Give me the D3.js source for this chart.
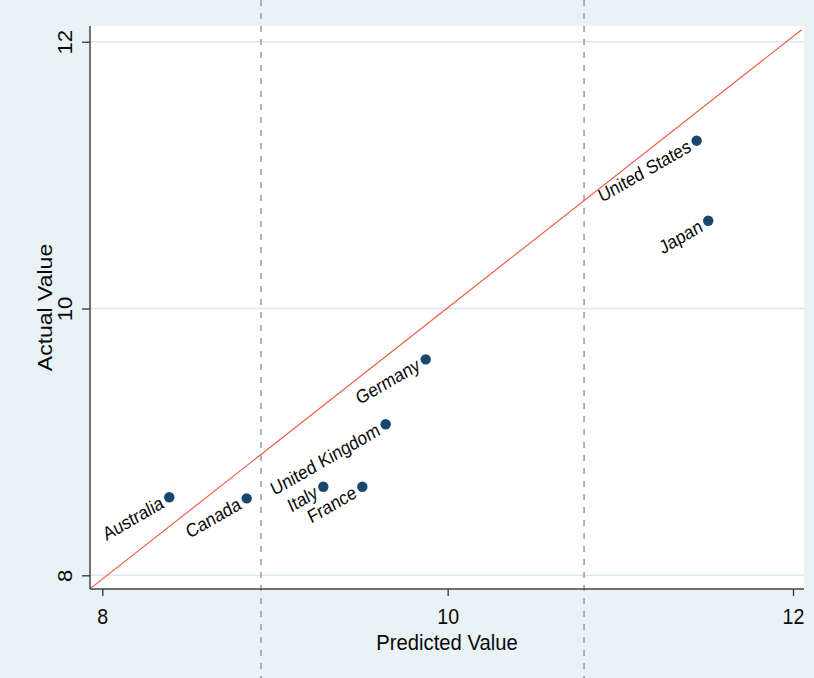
<!DOCTYPE html>
<html>
<head>
<meta charset="utf-8">
<script src="https://cdn.jsdelivr.net/npm/d3@7"></script>
<style>
  html, body { margin: 0; padding: 0; background: #e9f2f4; }
  svg { display: block; }
  text { font-family: "Liberation Sans", Arial, Helvetica, sans-serif; fill: #0a0a0a; }
</style>
</head>
<body>
<svg id="chart" width="814" height="678"></svg>
<script>
// Countries with predicted and actual values
const countries = ["Australia", "Canada", "Italy", "France", "United Kingdom", "Germany", "United States", "Japan"];
const predicted = [8.388, 8.836, 9.280, 9.506, 9.641, 9.873, 11.442, 11.509];
const actual    = [8.585, 8.577, 8.664, 8.664, 9.132, 9.619, 11.258, 10.658];

// Axis ticks
const xTicks = [8, 10, 12];
const yTicks = [8, 10, 12];

// Reference line endpoints (predicted, actual)
const refX = [7.93, 12.05];
const refY = [7.90, 12.09];

// Vertical dashed cut-off lines (predicted value)
const cutoffs = [8.919, 10.790];

const W = 814, H = 678;
const plot = { left: 90, right: 804, top: 26, bottom: 589 };
const squeeze = "scale(0.89,1)";   // condensed glyph shape

const svg = d3.select("#chart");

svg.append("rect").attr("width", W).attr("height", H).attr("fill", "#e9f2f4");

const x = d3.scaleLinear().domain([8, 12]).range([102.3, 793]);
const y = d3.scaleLinear().domain([8, 12]).range([575.3, 41.7]);

// Plot region
svg.append("rect")
  .attr("x", plot.left).attr("y", plot.top)
  .attr("width", plot.right - plot.left).attr("height", plot.bottom - plot.top)
  .attr("fill", "#ffffff");

// Horizontal gridlines
svg.append("g").selectAll("line").data(yTicks).join("line")
  .attr("x1", plot.left).attr("x2", plot.right)
  .attr("y1", d => y(d)).attr("y2", d => y(d))
  .attr("stroke", "#dbe8ed").attr("stroke-width", 1.5);

// Dashed cut-off lines spanning the full height
svg.append("g").selectAll("line").data(cutoffs).join("line")
  .attr("x1", d => x(d)).attr("x2", d => x(d))
  .attr("y1", 0).attr("y2", H)
  .attr("stroke", "#9a9a9a").attr("stroke-width", 1.5)
  .attr("stroke-dasharray", "6,7");

// Reference line
svg.append("line")
  .attr("x1", x(refX[0])).attr("y1", y(refY[0]))
  .attr("x2", x(refX[1])).attr("y2", y(refY[1]))
  .attr("stroke", "#f2553f").attr("stroke-width", 1.1);

// Axes
const xAxis = svg.append("g")
  .attr("transform", `translate(0,${plot.bottom})`)
  .call(d3.axisBottom(x).tickValues(xTicks).tickSize(7).tickFormat(d3.format("d")));
xAxis.select(".domain").remove();
xAxis.selectAll(".tick line").attr("stroke", "#333").attr("stroke-width", 1.3);
xAxis.selectAll(".tick text")
  .attr("font-size", 22).attr("fill", "#0a0a0a")
  .attr("font-family", "'Liberation Sans', Arial, sans-serif")
  .attr("y", 0).attr("dy", 0)
  .attr("text-anchor", "middle")
  .attr("transform", `translate(0,35) ${squeeze}`);

const yAxis = svg.append("g")
  .attr("transform", `translate(${plot.left},0)`)
  .call(d3.axisLeft(y).tickValues(yTicks).tickSize(8).tickFormat(d3.format("d")));
yAxis.select(".domain").remove();
yAxis.selectAll(".tick line").attr("stroke", "#333").attr("stroke-width", 1.3);
yAxis.selectAll(".tick text")
  .attr("font-size", 22).attr("fill", "#0a0a0a")
  .attr("font-family", "'Liberation Sans', Arial, sans-serif")
  .attr("x", 0).attr("dy", 0)
  .attr("text-anchor", "middle")
  .attr("transform", `translate(-18,0) ${squeeze} rotate(-90)`);

// Axis lines
svg.append("line").attr("x1", plot.left).attr("x2", plot.left)
  .attr("y1", plot.top).attr("y2", plot.bottom)
  .attr("stroke", "#444").attr("stroke-width", 1.5);
svg.append("line").attr("x1", plot.left).attr("x2", plot.right)
  .attr("y1", plot.bottom).attr("y2", plot.bottom)
  .attr("stroke", "#444").attr("stroke-width", 1.5);

// Axis titles
svg.append("text")
  .attr("transform", `translate(${(plot.left + plot.right) / 2},650) scale(0.92,1)`)
  .attr("text-anchor", "middle").attr("font-size", 22)
  .text("Predicted Value");
svg.append("text")
  .attr("transform", `translate(52,${(plot.top + plot.bottom) / 2}) ${squeeze} rotate(-90)`)
  .attr("text-anchor", "middle").attr("font-size", 23)
  .text("Actual Value");

// Points and labels
const data = countries.map((c, i) => ({ name: c, px: predicted[i], ac: actual[i] }));

svg.append("g").selectAll("circle").data(data).join("circle")
  .attr("cx", d => x(d.px)).attr("cy", d => y(d.ac))
  .attr("r", 5.2).attr("fill", "#1a476f");

svg.append("g").selectAll("text").data(data).join("text")
  .attr("transform", d => `translate(${x(d.px)},${y(d.ac)}) ${squeeze} rotate(-27.2)`)
  .attr("x", -9).attr("dy", "0.35em")
  .attr("text-anchor", "end").attr("font-size", 19)
  .text(d => d.name);
</script>
</body>
</html>
